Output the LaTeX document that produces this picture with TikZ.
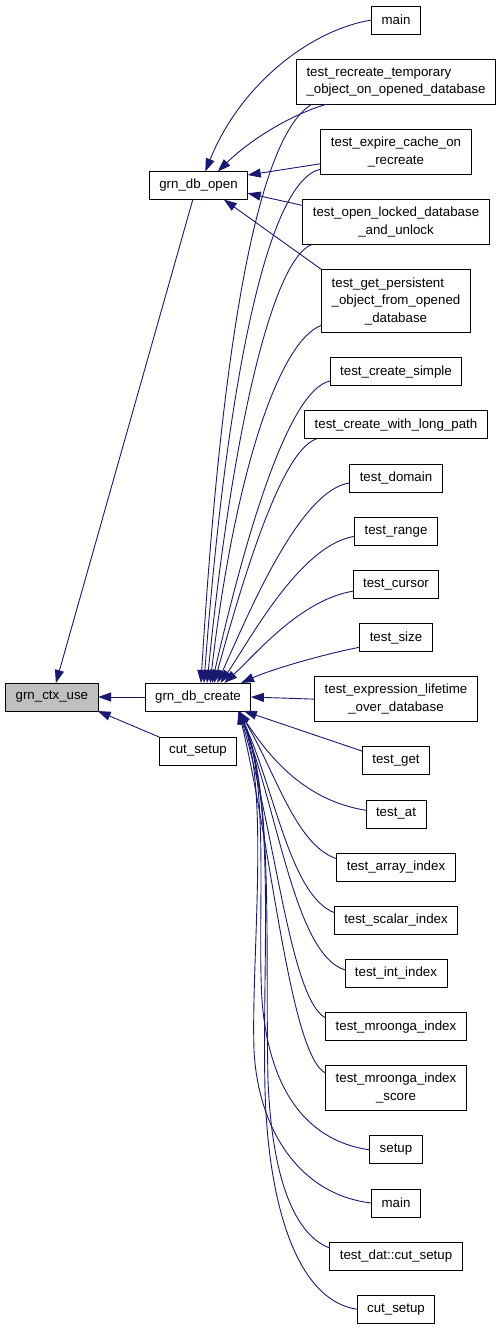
\documentclass[tikz,border=0pt]{standalone}
\usepackage{fontspec}
\setmainfont{Liberation Sans}
\usepackage{xcolor}
\usepackage{tikz}
\usetikzlibrary{positioning,arrows.meta}

\definecolor{rootgray}{HTML}{BFBFBF}
\definecolor{edgeblue}{HTML}{191970}
\newcommand{\lpad}[2]{\rlap{#1}\phantom{#2}}

\begin{document}
\begin{tikzpicture}[x=1pt, y=-1pt, node distance=25.15pt,
        fn/.style={draw=black, line width=0.9pt, fill=white, inner xsep=10pt, inner ysep=0pt, outer sep=0pt,
            minimum height=28pt, align=center, font=\fontsize{13.3}{17.5}\selectfont},
        two/.style={minimum height=45pt},
        three/.style={minimum height=63pt},
        root/.style={fill=rootgray},
        call/.style={draw=edgeblue, line width=0.9pt, -{Triangle[length=13pt,width=9pt]}}]
            \useasboundingbox (0,0) rectangle (499,1328);

            \node (C) [fn] at (198,697) {grn\_db\_create};
            \node (U) [fn, root, left=47pt of C] {grn\_ctx\_use};
            \node (K) [fn, below=26pt of C] {cut\_setup};
            \node (O) [fn] at (198.5,185.5) {grn\_db\_open};

            \node (T1) [fn] at (396,20) {main};
            \node (T2) [fn, two, below=of T1] {\lpad{test\_recreate\_temporary}{\_object\_on\_opened\_database}\\\_object\_on\_opened\_database};
            \node (T3) [fn, two, below=of T2] {test\_expire\_cache\_on\\\_recreate};
            \node (T4) [fn, two, below=of T3] {test\_open\_locked\_database\\\_and\_unlock};
            \node (T5) [fn, three, below=of T4] {\lpad{test\_get\_persistent}{\_object\_from\_opened}\\\_object\_from\_opened\\\_database};
            \node (T6) [fn, below=of T5] {test\_create\_simple};
            \node (T7) [fn, below=of T6] {test\_create\_with\_long\_path};
            \node (T8) [fn, below=of T7] {test\_domain};
            \node (T9) [fn, below=of T8] {test\_range};
            \node (T10) [fn, below=of T9] {test\_cursor};
            \node (T11) [fn, below=of T10] {test\_size};
            \node (T12) [fn, two, below=of T11] {test\_expression\_lifetime\\\_over\_database};
            \node (T13) [fn, below=of T12] {test\_get};
            \node (T14) [fn, below=of T13] {test\_at};
            \node (T15) [fn, below=of T14] {test\_array\_index};
            \node (T16) [fn, below=of T15] {test\_scalar\_index};
            \node (T17) [fn, below=of T16] {test\_int\_index};
            \node (T18) [fn, below=of T17] {test\_mroonga\_index};
            \node (T19) [fn, two, below=of T18] {test\_mroonga\_index\\\_score};
            \node (T20) [fn, below=of T19] {setup};
            \node (T21) [fn, below=of T20] {main};
            \node (T22) [fn, below=of T21] {test\_dat::cut\_setup};
            \node (T23) [fn, below=of T22] {cut\_setup};


            \draw [call] (C.west) -- (U.east);
            \draw [call] (O.-112) -- (U.74);
            \draw [call] (K.north west) -- (U.-17);

            \draw [call] (T1.west) .. controls (310,30) and (240,85) .. (O.64);
            \draw [call] (T2.198) .. controls (290,115) and (250,140) .. (O.36);
            \draw [call] (T3.189) -- (O.12);
            \draw [call] (T4.170) -- (O.-9);
            \draw [call] (T5.north west) -- (O.-29);

            \draw [call] (T2.195) .. controls (250,140) and (218,400) .. (C.78);
            \draw [call] (T3.193) .. controls (265,180) and (225,400) .. (C.67);
            \draw [call] (T4.195) .. controls (270,260) and (230,450) .. (C.57);
            \draw [call] (T5.198) .. controls (280,340) and (235,470) .. (C.49);
            \draw [call] (T6.188) .. controls (285,390) and (240,560) .. (C.45);
            \draw [call] (T7.190) .. controls (280,450) and (240,590) .. (C.41);
            \draw [call] (T8.186) .. controls (300,490) and (250,610) .. (C.36);
            \draw [call] (T9.187) .. controls (300,545) and (250,640) .. (C.32);
            \draw [call] (T10.189) .. controls (300,600) and (255,655) .. (C.28);
            \draw [call] (T11.195) .. controls (320,655) and (270,670) .. (C.18);
            \draw [call] (T12.west) -- (C.east);
            \draw [call] (T13.164) -- (C.-17);

            \draw [call] (T14.173) .. controls (300,800) and (265,750) .. (C.-19);
            \draw [call] (T15.172) .. controls (295,845) and (275,770) .. (C.-19);
            \draw [call] (T16.173) .. controls (290,895) and (275,790) .. (C.-19);
            \draw [call] (T17.176) .. controls (295,955) and (278,810) .. (C.-19);
            \draw [call] (T18.173) .. controls (290,1000) and (275,830) .. (C.-19);
            \draw [call] (T19.168) .. controls (290,1055) and (272,850) .. (C.-19);
            \draw [call] (T20.west) .. controls (300,1140) and (268,1080) .. (262,1000)
                .. controls (257,920) and (270,780) .. (C.-19);
            \draw [call] (T21.west) .. controls (300,1195) and (258,1130) .. (254,1050)
                .. controls (251,960) and (270,790) .. (C.-19);
            \draw [call] (T22.173) .. controls (295,1235) and (272,1180) .. (268,1080)
                .. controls (265,950) and (274,790) .. (C.-19);
            \draw [call] (T23.west) .. controls (295,1300) and (268,1200) .. (265,1090)
                .. controls (262,960) and (276,800) .. (C.-19);
        \end{tikzpicture}
\end{document}
